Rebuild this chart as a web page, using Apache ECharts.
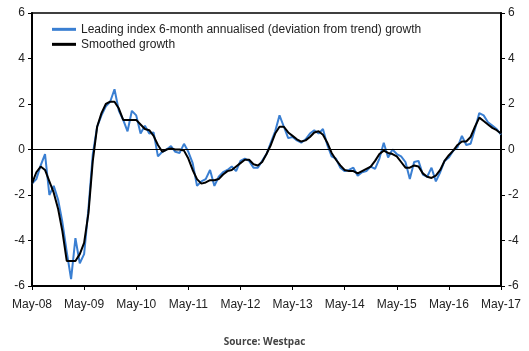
<!DOCTYPE html>
<html>
<head>
  <script src="https://cdn.jsdelivr.net/npm/echarts@6/dist/echarts.min.js"></script>
  <style>
    body { margin: 0; padding: 0; background: #fff; }
    #main { width: 529px; height: 351px; }
  </style>
</head>
<body>
<div id="main"></div>
<script>
  // monthly, May-08 .. May-17
  var yearTags = ['08', '09', '10', '11', '12', '13', '14', '15', '16', '17'];
  var monthNames = ['May', 'Jun', 'Jul', 'Aug', 'Sep', 'Oct', 'Nov', 'Dec', 'Jan', 'Feb', 'Mar', 'Apr'];
  var yTicks = [-6, -4, -2, 0, 2, 4, 6];

  var leadingGrowth = [
    -1.5, -1.3, -0.7, -0.2, -2.0, -1.6, -2.2, -3.2, -4.5, -5.7, -3.9, -5.0,
    -4.6, -2.6, -0.2, 1.0, 1.5, 1.9, 2.1, 2.65, 1.7, 1.3, 0.8, 1.7,
    1.5, 0.7, 1.05, 0.7, 0.75, -0.3, -0.1, 0.0, 0.15, -0.1, -0.15, 0.25,
    -0.1, -0.6, -1.6, -1.4, -1.3, -0.9, -1.6, -1.2, -1.0, -0.9, -0.75, -0.95,
    -0.5, -0.4, -0.5, -0.8, -0.8, -0.5, -0.2, 0.3, 0.8, 1.5, 1.0, 0.5,
    0.55, 0.4, 0.3, 0.45, 0.7, 0.85, 0.7, 0.9, 0.2, -0.3, -0.4, -0.8,
    -0.95, -0.9, -0.8, -1.15, -1.0, -0.95, -0.75, -0.85, -0.4, 0.3, -0.35, 0.0,
    -0.2, -0.3, -0.55, -1.3, -0.55, -0.5, -1.1, -1.2, -0.8, -1.4, -1.0, -0.5,
    -0.35, -0.05, 0.1, 0.6, 0.2, 0.25, 0.9, 1.6, 1.5, 1.2, 1.05, 0.9,
    0.65
  ];
  var smoothedGrowth = [
    -1.5, -1.0, -0.75, -0.9, -1.4, -1.9, -2.6, -3.6, -4.9, -4.9, -4.9, -4.6,
    -4.1, -2.8, -0.5, 1.0, 1.6, 2.0, 2.1, 2.1, 1.8, 1.3, 1.3, 1.3,
    1.3, 1.1, 0.9, 0.85, 0.6, 0.2, -0.1, 0.0, 0.05, 0.0, 0.0, -0.05,
    -0.4, -0.9, -1.3, -1.5, -1.45, -1.35, -1.35, -1.3, -1.1, -0.95, -0.9, -0.75,
    -0.6, -0.45, -0.45, -0.65, -0.7, -0.55, -0.2, 0.2, 0.7, 1.0, 1.0, 0.75,
    0.6, 0.45, 0.35, 0.4, 0.55, 0.75, 0.8, 0.65, 0.3, -0.15, -0.45, -0.7,
    -0.9, -0.95, -0.95, -1.05, -0.95, -0.85, -0.75, -0.5, -0.2, -0.05, -0.15, -0.2,
    -0.3, -0.55, -0.8, -0.8, -0.7, -0.75, -1.05, -1.2, -1.25, -1.15, -0.9, -0.5,
    -0.25, -0.05, 0.2, 0.35, 0.35, 0.55, 1.0, 1.4, 1.25, 1.1, 0.95, 0.85,
    0.7
  ];

  var months = [];
  for (var i = 0; i < leadingGrowth.length; i++) {
    var yr = yearTags[Math.floor(i / 12) + (i % 12 >= 8 ? 1 : 0)];
    months.push(monthNames[i % 12] + '-' + yr);
  }

  var font = 'Liberation Sans, Arial, sans-serif';
  var leadName = 'Leading index 6-month annualised (deviation from trend) growth';
  var smoothName = 'Smoothed growth';
  var chart = echarts.init(document.getElementById('main'));

  var yAxisBase = function (pos) {
    return {
      type: 'value',
      position: pos,
      min: yTicks[0],
      max: yTicks[yTicks.length - 1],
      interval: 2,
      axisLine: { show: true, lineStyle: { color: '#000', width: 2 } },
      axisTick: { show: true, length: 4, lineStyle: { color: '#000' } },
      axisLabel: { color: '#222', fontFamily: font, fontSize: 12, margin: 7 },
      splitLine: { show: false }
    };
  };

  var legendBase = function (name, color, top) {
    return {
      left: 47, top: top, padding: 5,
      itemWidth: 24, itemHeight: 3,
      textStyle: { color: '#222', fontFamily: font, fontSize: 12 },
      data: [{ name: name, icon: 'rect', itemStyle: { color: color } }]
    };
  };

  chart.setOption({
    animation: false,
    grid: {
      left: 32, right: 28, top: 13, bottom: 65,
      show: true, borderColor: '#000', borderWidth: 1.5
    },
    legend: [
      legendBase(leadName, '#3a7fd2', 14),
      legendBase(smoothName, '#000', 29)
    ],
    xAxis: {
      type: 'category',
      data: months,
      boundaryGap: false,
      axisLine: { onZero: false, lineStyle: { color: '#000', width: 2 } },
      axisTick: { interval: 11, length: 4, lineStyle: { color: '#000' } },
      axisLabel: { interval: 11, color: '#222', fontFamily: font, fontSize: 12, margin: 8 }
    },
    yAxis: [yAxisBase('left'), yAxisBase('right')],
    graphic: [{
      type: 'text', left: 'center', top: 333,
      style: { text: 'Source: Westpac', fill: '#444', font: 'bold 10px "Open Sans", sans-serif' }
    }],
    series: [
      {
        name: leadName,
        type: 'line',
        data: leadingGrowth,
        symbol: 'none',
        lineStyle: { color: '#3a7fd2', width: 2 },
        itemStyle: { color: '#3a7fd2' },
        markLine: {
          silent: true, symbol: 'none', label: { show: false },
          lineStyle: { color: '#000', width: 1.2, type: 'solid' },
          data: [{ yAxis: 0 }]
        }
      },
      {
        name: smoothName,
        type: 'line',
        data: smoothedGrowth,
        symbol: 'none',
        lineStyle: { color: '#000', width: 2 },
        itemStyle: { color: '#000' }
      }
    ]
  });
</script>
</body>
</html>
